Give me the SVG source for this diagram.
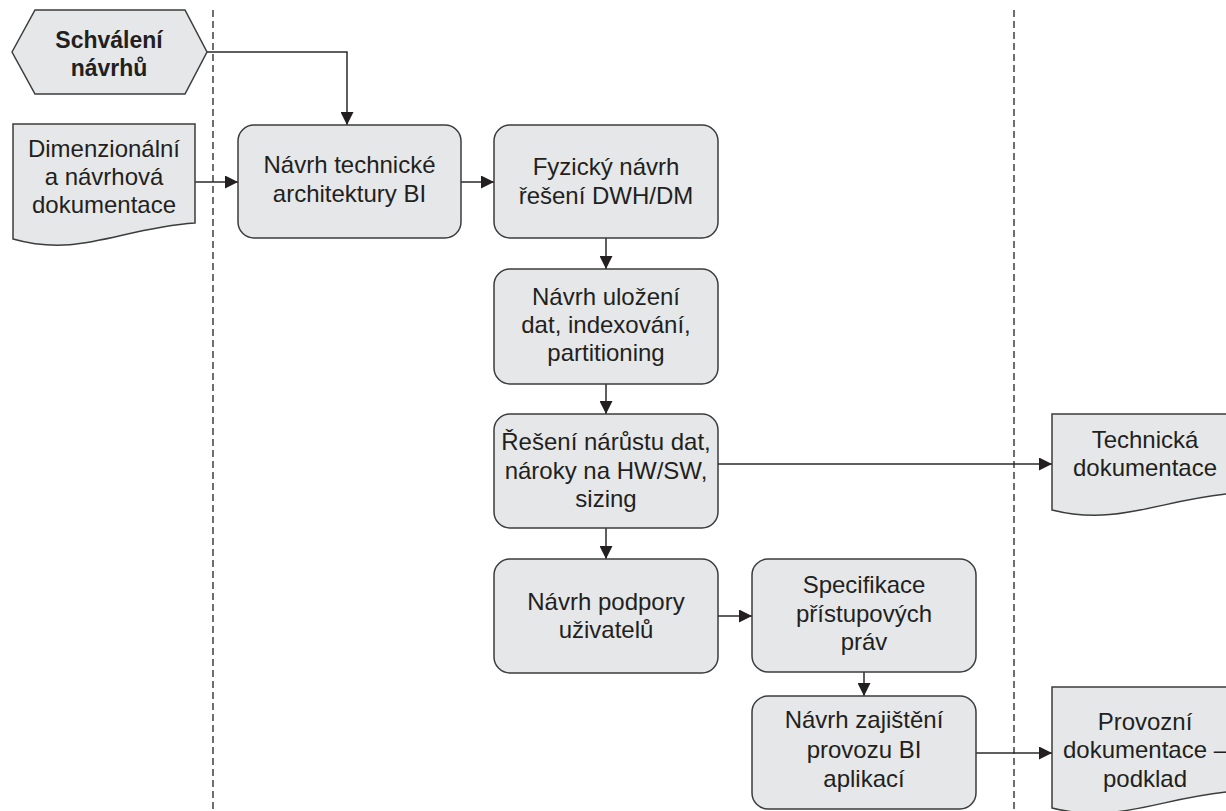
<svg xmlns="http://www.w3.org/2000/svg" width="1226" height="811" viewBox="0 0 1226 811">
<style>
  .shape { fill: #e6e7e8; stroke: #3c3c3c; stroke-width: 1.5; }
  .t { font-family: "Liberation Sans", Arial, sans-serif; font-size: 24px; fill: #231f20; text-anchor: middle; }
  .b { font-weight: bold; font-size: 23px; }
  .conn { fill: none; stroke: #2a2a2a; stroke-width: 1.5; }
  .lane { fill: none; stroke: #231f20; stroke-width: 1.3; stroke-dasharray: 7 4; }
</style>
<defs>
  <marker id="arr" markerUnits="userSpaceOnUse" markerWidth="13" markerHeight="13" refX="13" refY="6.5" orient="auto">
    <path d="M0,0 L13,6.5 L0,13 z" fill="#231f20"/>
  </marker>
</defs>
<rect width="1226" height="811" fill="#ffffff"/>
<g id="lanes">
  <line class="lane" x1="213" y1="10" x2="213" y2="811"/>
  <line class="lane" x1="1014" y1="10" x2="1014" y2="811"/>
</g>
<g id="connectors">
  <path class="conn" d="M207,52 H347 V125" marker-end="url(#arr)"/>
  <path class="conn" d="M195,182 H238" marker-end="url(#arr)"/>
  <path class="conn" d="M461,182 H494" marker-end="url(#arr)"/>
  <path class="conn" d="M606,238 V269" marker-end="url(#arr)"/>
  <path class="conn" d="M606,384 V414" marker-end="url(#arr)"/>
  <path class="conn" d="M718,464 H1052" marker-end="url(#arr)"/>
  <path class="conn" d="M606,528 V559" marker-end="url(#arr)"/>
  <path class="conn" d="M718,616 H752" marker-end="url(#arr)"/>
  <path class="conn" d="M864,672 V696" marker-end="url(#arr)"/>
  <path class="conn" d="M976,753 H1052" marker-end="url(#arr)"/>
</g>
<g id="schvaleni">
  <polygon class="shape" points="12,52 35,10 185,10 207,52 185,94 35,94"/>
  <text class="t b" x="109" y="48">Schválení</text>
  <text class="t b" x="109" y="76">návrhů</text>
</g>
<g id="dimenzionalni">
  <path class="shape" d="M13,124 H195 V223 C120,228 80,258 13,239 Z"/>
  <text class="t" x="104" y="157">Dimenzionální</text>
  <text class="t" x="104" y="185">a návrhová</text>
  <text class="t" x="104" y="213">dokumentace</text>
</g>
<g id="navrh-technicke">
  <rect class="shape" x="238" y="125" width="223" height="113" rx="16"/>
  <text class="t" x="349.5" y="173">Návrh technické</text>
  <text class="t" x="349.5" y="202">architektury BI</text>
</g>
<g id="fyzicky-navrh">
  <rect class="shape" x="494" y="125" width="224" height="113" rx="16"/>
  <text class="t" x="606" y="175">Fyzický návrh</text>
  <text class="t" x="606" y="204">řešení DWH/DM</text>
</g>
<g id="navrh-ulozeni">
  <rect class="shape" x="494" y="269" width="224" height="115" rx="16"/>
  <text class="t" x="606" y="305">Návrh uložení</text>
  <text class="t" x="606" y="333">dat, indexování,</text>
  <text class="t" x="606" y="361">partitioning</text>
</g>
<g id="reseni-narustu">
  <rect class="shape" x="494" y="414" width="224" height="114" rx="16"/>
  <text class="t" x="606" y="450">Řešení nárůstu dat,</text>
  <text class="t" x="606" y="479">nároky na HW/SW,</text>
  <text class="t" x="606" y="507">sizing</text>
</g>
<g id="technicka-dokumentace">
  <path class="shape" d="M1052,414 H1238 V493 C1163,498 1119,527 1052,510 Z"/>
  <text class="t" x="1145" y="448">Technická</text>
  <text class="t" x="1145" y="476">dokumentace</text>
</g>
<g id="navrh-podpory">
  <rect class="shape" x="494" y="559" width="224" height="114" rx="16"/>
  <text class="t" x="606" y="610">Návrh podpory</text>
  <text class="t" x="606" y="638">uživatelů</text>
</g>
<g id="specifikace">
  <rect class="shape" x="752" y="559" width="224" height="113" rx="16"/>
  <text class="t" x="864" y="593">Specifikace</text>
  <text class="t" x="864" y="622">přístupových</text>
  <text class="t" x="864" y="650">práv</text>
</g>
<g id="navrh-zajisteni">
  <rect class="shape" x="752" y="696" width="224" height="113" rx="16"/>
  <text class="t" x="864" y="728">Návrh zajištění</text>
  <text class="t" x="864" y="758">provozu BI</text>
  <text class="t" x="864" y="787">aplikací</text>
</g>
<g id="provozni-dokumentace">
  <path class="shape" d="M1052,687 H1238 V791 C1163,796 1119,825 1052,808 Z"/>
  <text class="t" x="1145" y="730">Provozní</text>
  <text class="t" x="1145" y="758">dokumentace –</text>
  <text class="t" x="1145" y="787">podklad</text>
</g>
</svg>
